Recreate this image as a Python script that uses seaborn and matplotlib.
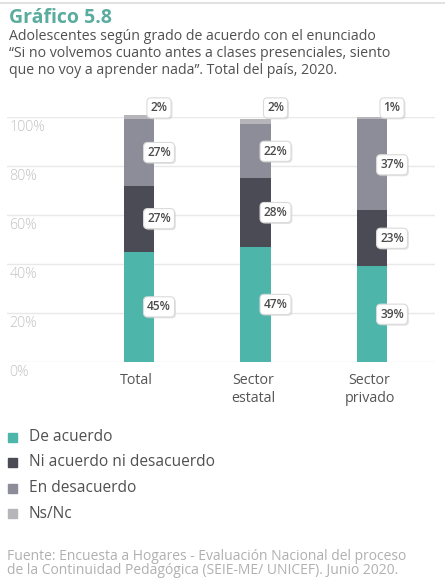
import matplotlib
matplotlib.use("Agg")
import matplotlib.pyplot as plt
import matplotlib.patheffects as pe
from matplotlib.patches import Rectangle
import seaborn as sns
import pandas as pd

# Survey shares (%) by sector
categories = ["Total", "Sector\nestatal", "Sector\nprivado"]
series_names = ["De acuerdo", "Ni acuerdo ni desacuerdo", "En desacuerdo", "Ns/Nc"]
de_acuerdo = [45, 47, 39]
ni_acuerdo = [27, 28, 23]
en_desacuerdo = [27, 22, 37]
ns_nc = [2, 2, 1]
y_ticks = [0, 20, 40, 60, 80, 100]
y_tick_labels = ["0%", "20%", "40%", "60%", "80%", "100%"]

colors = ["#4db5aa", "#4b4b55", "#8d8d9a", "#b6b6ba"]

sns.set_theme(style="white")
plt.rcParams["font.family"] = ["Open Sans", "DejaVu Sans"]

W, H = 445, 580
fig = plt.figure(figsize=(W / 100, H / 100), dpi=100)
fig.patch.set_facecolor("white")


def fx(px):
    return px / W


def fy(py):
    return 1 - py / H


# top rule
fig.add_artist(plt.Line2D([0, 1], [fy(3), fy(3)], color="#dcdcdc", lw=1.2))

fig.text(fx(9), fy(23), "Gráfico 5.8", color="#5aac9e", fontsize=14,
         fontweight="bold", va="baseline")
subtitle = ["Adolescentes según grado de acuerdo con el enunciado",
            "“Si no volvemos cuanto antes a clases presenciales, siento",
            "que no voy a aprender nada”. Total del país, 2020."]
for i, line in enumerate(subtitle):
    fig.text(fx(9), fy(40 + i * 16.8), line, color="#505050", fontsize=10.2,
             va="baseline")

# plot area
ax_left, ax_right, ax_top, ax_bottom = 7, 435, 117, 362
ax = fig.add_axes([fx(ax_left), fy(ax_bottom), (ax_right - ax_left) / W,
                   (ax_bottom - ax_top) / H])

df = pd.DataFrame({
    "cat": categories,
    series_names[0]: de_acuerdo,
    series_names[1]: ni_acuerdo,
    series_names[2]: en_desacuerdo,
    series_names[3]: ns_nc,
})
cum = df[series_names].cumsum(axis=1)

# stacked bars: draw cumulative totals from the top series down
for name, col in reversed(list(zip(series_names, colors))):
    sns.barplot(x=df["cat"], y=cum[name], color=col, saturation=1,
                width=0.266, ax=ax, order=categories, zorder=3)
for p in ax.patches:
    p.set_clip_on(False)
    p.set_linewidth(0)

spacing = 116.5
ax.set_xlim(-(139 - ax_left) / spacing, 2 + (ax_right - 372) / spacing)
ax.set_ylim(0, 100)
ax.set_xlabel("")
ax.set_ylabel("")
ax.set_xticks([])
ax.set_yticks([])
for s in ax.spines.values():
    s.set_visible(False)

for v, lab in zip(y_ticks, y_tick_labels):
    ax.axhline(v, color="#e8e8e8", lw=1, zorder=1)
    ax.text(0.006, v - 1.3, lab, transform=ax.get_yaxis_transform(),
            ha="left", va="top", color="#c2c2c2", fontsize=10.3,
            fontweight="light")

for i, c in enumerate(categories):
    ax.text(i - 0.02, -4.3, c, ha="center", va="top", color="#555555",
            fontsize=10.3, linespacing=1.3)

# value boxes
box = dict(boxstyle="round,pad=0.3,rounding_size=0.35", fc="white",
           ec="#dadada", lw=0.8)
for i in range(len(categories)):
    base = 0
    for j, name in enumerate(series_names):
        v = df[name][i]
        y = base + v / 2 if j < 3 else 103.7
        t = ax.text(i + 0.172, y, f"{v}%", ha="center", va="center",
                    fontsize=8.6, fontweight="semibold", color="#4a4a4a",
                    bbox=box, zorder=5, clip_on=False)
        t.get_bbox_patch().set_path_effects(
            [pe.SimplePatchShadow(offset=(1, -1), shadow_rgbFace="#c8c8c8",
                                  alpha=0.5), pe.Normal()])
        base += v

# legend
for k, (name, col) in enumerate(zip(series_names, colors)):
    yc = 437 + k * 25.5
    fig.add_artist(Rectangle((fx(8), fy(yc + 4.5)), 9 / W, 9 / H,
                             color=col, transform=fig.transFigure))
    fig.text(fx(29), fy(yc), name, color="#505050", fontsize=11.2,
             va="center")

source = ["Fuente: Encuesta a Hogares - Evaluación Nacional del proceso",
          "de la Continuidad Pedagógica (SEIE-ME/ UNICEF). Junio 2020."]
for i, line in enumerate(source):
    fig.text(fx(7), fy(557 + i * 13.5), line, color="#b0b0b0", fontsize=10,
             va="center")

fig.savefig("out.png", dpi=100, facecolor="white")
